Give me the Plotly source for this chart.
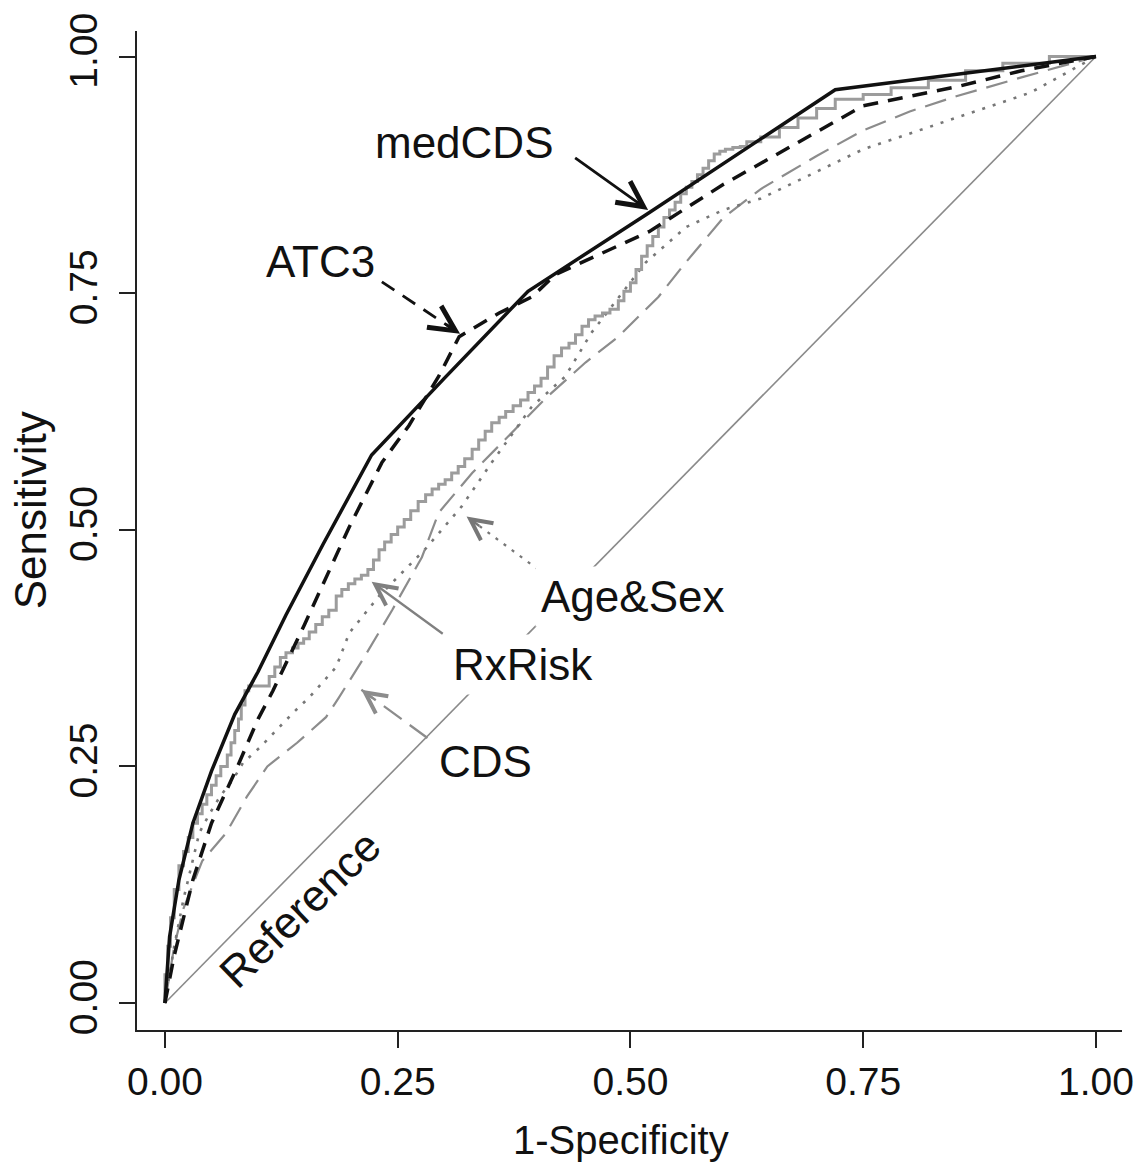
import plotly.graph_objects as go

# ---------------- data ----------------
tick_vals = [0, 0.25, 0.5, 0.75, 1.0]
tick_text = ["0.00", "0.25", "0.50", "0.75", "1.00"]

ref_x = [0, 1]
ref_y = [0, 1]

medcds_x = [0, 0.005, 0.015, 0.03, 0.05, 0.075, 0.10, 0.13, 0.17, 0.222, 0.30, 0.39, 0.52, 0.72, 1.0]
medcds_y = [0, 0.07, 0.13, 0.19, 0.245, 0.305, 0.35, 0.41, 0.485, 0.579, 0.66, 0.752, 0.835, 0.965, 1.0]

atc3_x = [0, 0.01, 0.03, 0.05, 0.078, 0.10, 0.116, 0.15, 0.198, 0.233, 0.262, 0.294, 0.316, 0.359, 0.394,
          0.42, 0.52, 0.60, 0.75, 0.85, 0.92, 1.0]
atc3_y = [0, 0.05, 0.13, 0.19, 0.25, 0.30, 0.33, 0.40, 0.503, 0.571, 0.61, 0.662, 0.704, 0.729, 0.746,
          0.77, 0.815, 0.865, 0.948, 0.968, 0.985, 1.0]

rxrisk_x = [0, 0.003, 0.006, 0.01, 0.015, 0.02, 0.025, 0.03, 0.035, 0.04, 0.045, 0.05, 0.055, 0.06,
            0.067, 0.071, 0.075, 0.079, 0.082, 0.086, 0.09,
            0.112, 0.118, 0.124, 0.130, 0.137, 0.143, 0.149, 0.155, 0.162, 0.169, 0.176, 0.184,
            0.190, 0.197, 0.204, 0.211, 0.218, 0.224, 0.230, 0.236, 0.243, 0.250,
            0.257, 0.264, 0.272, 0.280, 0.287, 0.294, 0.301, 0.308, 0.315, 0.322,
            0.330, 0.337, 0.344, 0.351, 0.359, 0.366, 0.374, 0.382, 0.390, 0.397,
            0.404, 0.411, 0.418, 0.426, 0.434, 0.441, 0.448, 0.455, 0.462, 0.470,
            0.478, 0.487, 0.493, 0.500, 0.506, 0.512, 0.518, 0.524, 0.530, 0.536,
            0.542, 0.548, 0.554, 0.560, 0.566, 0.572, 0.578, 0.584, 0.590, 0.596,
            0.602, 0.610, 0.618, 0.625,
            0.64, 0.66, 0.68, 0.70, 0.72, 0.75, 0.78, 0.82, 0.86, 0.90, 0.95, 1.0]
rxrisk_y = [0, 0.03, 0.06, 0.09, 0.12, 0.145, 0.16, 0.175, 0.19, 0.20, 0.21, 0.22, 0.23, 0.24,
            0.25, 0.262, 0.275, 0.288, 0.30, 0.315, 0.33,
            0.335, 0.345, 0.355, 0.365, 0.37, 0.375, 0.38, 0.385, 0.392, 0.40, 0.408, 0.415,
            0.43, 0.437, 0.443, 0.448, 0.452, 0.458, 0.468, 0.479, 0.487, 0.495,
            0.503, 0.511, 0.52, 0.53, 0.537, 0.543, 0.548, 0.553, 0.56, 0.567,
            0.575, 0.585, 0.595, 0.604, 0.613, 0.619, 0.625, 0.631, 0.637, 0.645,
            0.652, 0.66, 0.672, 0.684, 0.692, 0.697, 0.706, 0.715, 0.722, 0.726,
            0.729, 0.733, 0.742, 0.752, 0.761, 0.775, 0.789, 0.80, 0.81, 0.82,
            0.83, 0.838, 0.846, 0.855, 0.862, 0.868, 0.875, 0.882, 0.89, 0.897,
            0.90, 0.902, 0.904, 0.905,
            0.91, 0.915, 0.925, 0.935, 0.945, 0.955, 0.96, 0.967, 0.975, 0.985, 0.993, 1.0]
assert len(rxrisk_x) == len(rxrisk_y)

cds_x = [0, 0.01, 0.02, 0.04, 0.066, 0.088, 0.11, 0.142, 0.173, 0.187, 0.212, 0.244, 0.276, 0.294,
         0.33, 0.37, 0.41, 0.452, 0.487, 0.53, 0.559, 0.60, 0.64, 0.70, 0.75, 0.80, 0.85, 0.92, 1.0]
cds_y = [0, 0.06, 0.10, 0.15, 0.18, 0.218, 0.25, 0.275, 0.302, 0.323, 0.362, 0.415, 0.471, 0.518,
         0.56, 0.60, 0.64, 0.677, 0.704, 0.746, 0.782, 0.83, 0.86, 0.895, 0.922, 0.942, 0.958, 0.978, 1.0]

agesex_x = [0, 0.01, 0.02, 0.037, 0.048, 0.059, 0.073, 0.084, 0.102, 0.12, 0.137, 0.155, 0.184, 0.198,
            0.23, 0.28, 0.319, 0.351, 0.394, 0.43, 0.458, 0.516, 0.56, 0.60, 0.64, 0.75, 0.85, 0.93, 1.0]
agesex_y = [0, 0.06, 0.11, 0.18, 0.20, 0.218, 0.236, 0.254, 0.27, 0.289, 0.306, 0.323, 0.355, 0.391,
            0.43, 0.48, 0.525, 0.571, 0.63, 0.662, 0.708, 0.782, 0.82, 0.838, 0.85, 0.902, 0.935, 0.962, 1.0]

# ---------------- figure ----------------
FONT = "Liberation Sans, Arial, sans-serif"
BLACK = "#111111"
fig = go.Figure()

fig.add_trace(go.Scatter(x=ref_x, y=ref_y, mode="lines",
                         line=dict(color="#8a8a8a", width=1.6), hoverinfo="skip"))
fig.add_trace(go.Scatter(x=cds_x, y=cds_y, mode="lines",
                         line=dict(color="#8c8c8c", width=2.2, dash="22px,10px")))
fig.add_trace(go.Scatter(x=agesex_x, y=agesex_y, mode="lines",
                         line=dict(color="#777777", width=2.6, dash="3px,8px")))
fig.add_trace(go.Scatter(x=rxrisk_x, y=rxrisk_y, mode="lines", line_shape="vh",
                         line=dict(color="#9c9c9c", width=3)))
fig.add_trace(go.Scatter(x=atc3_x, y=atc3_y, mode="lines",
                         line=dict(color=BLACK, width=3.5, dash="15px,10px")))
fig.add_trace(go.Scatter(x=medcds_x, y=medcds_y, mode="lines",
                         line=dict(color=BLACK, width=3.5)))

# arrow shafts (dashed ones drawn as shapes) and heads (annotations)
arrows = [
    # tail_x, tail_y, tip_x, tip_y, color, dash, solid
    (0.439, 0.894, 0.519, 0.838, BLACK, "solid", True),
    (0.233, 0.762, 0.317, 0.707, BLACK, "15px,10px", False),
    (0.401, 0.458, 0.324, 0.514, "#777777", "3px,7px", False),
    (0.300, 0.389, 0.222, 0.445, "#808080", "solid", True),
    (0.282, 0.280, 0.211, 0.331, "#8c8c8c", "22px,10px", False),
]
for tx, ty, hx, hy, col, dash, solid in arrows:
    w = 2.8 if col == BLACK else 2.3
    if solid:
        fig.add_annotation(x=hx, y=hy, ax=tx, ay=ty, xref="x", yref="y", axref="x", ayref="y",
                           text="", showarrow=True, arrowhead=5, arrowsize=1.8,
                           arrowwidth=w, arrowcolor=col)
    else:
        fig.add_shape(type="line", x0=tx, y0=ty, x1=hx, y1=hy, xref="x", yref="y",
                      line=dict(color=col, width=w, dash=dash))
        fx = hx + (tx - hx) * 0.2
        fy = hy + (ty - hy) * 0.2
        fig.add_annotation(x=hx, y=hy, ax=fx, ay=fy, xref="x", yref="y", axref="x", ayref="y",
                           text="", showarrow=True, arrowhead=5, arrowsize=1.8,
                           arrowwidth=w, arrowcolor=col)

labels = [
    ("medCDS", 0.322, 0.909, False),
    ("ATC3", 0.167, 0.783, False),
    ("Age&Sex", 0.502, 0.430, True),
    ("RxRisk", 0.385, 0.358, True),
    ("CDS", 0.344, 0.255, True),
]
for txt, lx, ly, boxed in labels:
    fig.add_annotation(x=lx, y=ly, xref="x", yref="y", text=txt, showarrow=False,
                       font=dict(family=FONT, size=44, color=BLACK),
                       bgcolor="white" if boxed else None, borderpad=5,
                       xanchor="center", yanchor="middle")

fig.add_annotation(x=0.145, y=0.100, xref="x", yref="y", text="Reference", showarrow=False,
                   textangle=-44, xanchor="center", yanchor="middle",
                   font=dict(family=FONT, size=44, color=BLACK))

# axis titles
fig.add_annotation(x=(622 - 137) / 988, y=(1030 - 1140) / 999, xref="paper", yref="paper",
                   text="1-Specificity", showarrow=False, xanchor="center", yanchor="middle",
                   font=dict(family=FONT, size=40, color=BLACK))
fig.add_annotation(x=(31 - 137) / 988, y=(1030 - 510) / 999, xref="paper", yref="paper",
                   text="Sensitivity", showarrow=False, textangle=-90,
                   xanchor="center", yanchor="middle",
                   font=dict(family=FONT, size=44, color=BLACK))

axis_common = dict(showgrid=False, zeroline=False, showline=True, linecolor="#222222", linewidth=2,
                   ticks="outside", ticklen=16, tickwidth=2, tickcolor="#222222",
                   tickvals=tick_vals, ticktext=tick_text,
                   tickfont=dict(family=FONT, size=39, color=BLACK))

fig.update_layout(
    width=1146, height=1169,
    margin=dict(l=137, r=21, t=31, b=139),
    paper_bgcolor="white", plot_bgcolor="white",
    showlegend=False,
    xaxis=dict(range=[-0.030, 1.028], **axis_common),
    yaxis=dict(range=[-0.0285, 1.027], tickangle=-90, ticklabelstandoff=6, **axis_common),
)

fig.write_html("out.html")
